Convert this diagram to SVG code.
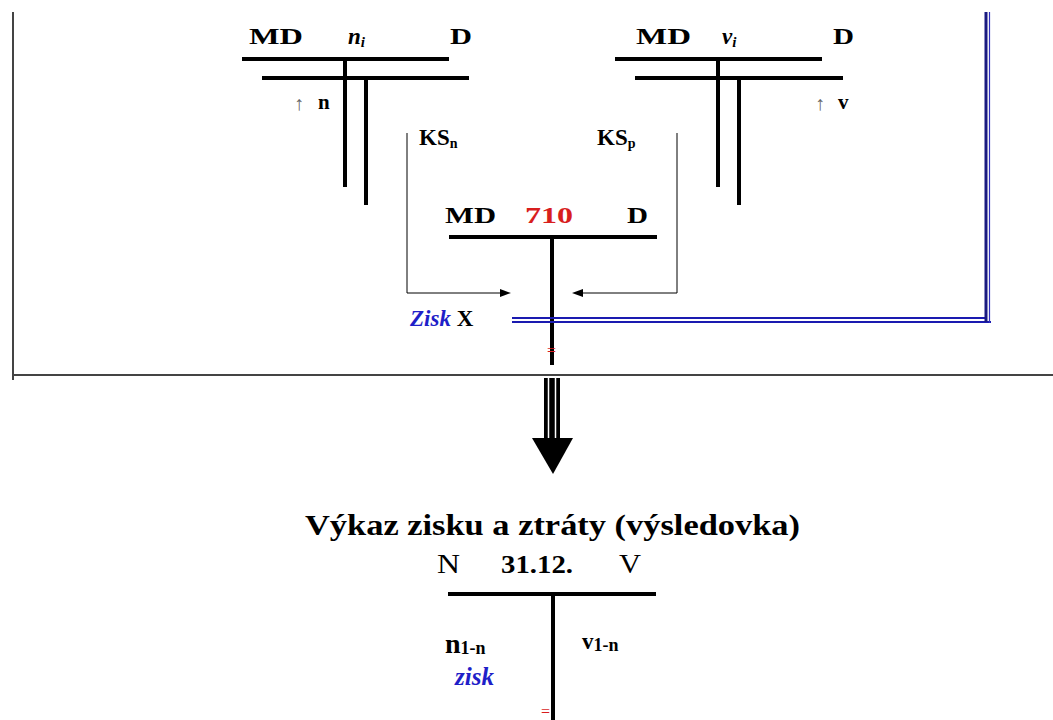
<svg xmlns="http://www.w3.org/2000/svg" width="1053" height="720" viewBox="0 0 1053 720">
<rect width="1053" height="720" fill="#fff"/>
<g id="frame" stroke="#444" stroke-width="2" fill="none">
<line x1="13" y1="12" x2="13" y2="380"/>
<line x1="13" y1="375" x2="1053" y2="375"/>
</g>
<g id="account-ni">
<g stroke="#000" stroke-width="4">
<line x1="242" y1="59" x2="449" y2="59"/>
<line x1="262" y1="78" x2="469" y2="78"/>
<line x1="345" y1="59" x2="345" y2="187"/>
<line x1="366" y1="78" x2="366" y2="205"/>
</g>
<text x="249" y="44" font-family="Liberation Serif" font-weight="bold" font-size="23" textLength="54" lengthAdjust="spacingAndGlyphs">MD</text>
<text x="348" y="44" font-family="Liberation Serif" font-weight="bold" font-size="23" font-style="italic">n<tspan font-size="15" dy="3">i</tspan></text>
<text x="450" y="44" font-family="Liberation Serif" font-weight="bold" font-size="23" textLength="22" lengthAdjust="spacingAndGlyphs">D</text>
<text x="294" y="110" font-family="Liberation Serif" font-size="20" fill="#666">↑</text>
<text x="318" y="109" font-family="Liberation Serif" font-weight="bold" font-size="21">n</text>
</g>
<g id="account-vi">
<g stroke="#000" stroke-width="4">
<line x1="615" y1="59" x2="822" y2="59"/>
<line x1="635" y1="78" x2="843" y2="78"/>
<line x1="718" y1="59" x2="718" y2="187"/>
<line x1="739" y1="78" x2="739" y2="205"/>
</g>
<text x="636" y="44" font-family="Liberation Serif" font-weight="bold" font-size="23" textLength="55" lengthAdjust="spacingAndGlyphs">MD</text>
<text x="722" y="44" font-family="Liberation Serif" font-weight="bold" font-size="23" font-style="italic">v<tspan font-size="15" dy="3">i</tspan></text>
<text x="833" y="44" font-family="Liberation Serif" font-weight="bold" font-size="23" textLength="21" lengthAdjust="spacingAndGlyphs">D</text>
<text x="815" y="110" font-family="Liberation Serif" font-size="20" fill="#666">↑</text>
<text x="838" y="109" font-family="Liberation Serif" font-weight="bold" font-size="21">v</text>
</g>
<g id="account-710">
<g stroke="#000" stroke-width="4">
<line x1="449" y1="237" x2="657" y2="237"/>
<line x1="552" y1="237" x2="552" y2="365"/>
</g>
<text x="445" y="223" font-family="Liberation Serif" font-weight="bold" font-size="23" textLength="51" lengthAdjust="spacingAndGlyphs">MD</text>
<text x="525" y="223" font-family="Liberation Serif" font-weight="bold" font-size="23" fill="#d81e1e" textLength="48" lengthAdjust="spacingAndGlyphs">710</text>
<text x="627" y="223" font-family="Liberation Serif" font-weight="bold" font-size="23" textLength="21" lengthAdjust="spacingAndGlyphs">D</text>
<text x="547" y="356" font-family="Liberation Serif" font-size="16" fill="#d81e1e">=</text>
</g>
<g id="labels">
<text x="419" y="145" font-family="Liberation Serif" font-weight="bold" font-size="23">KS<tspan font-size="14" dy="3">n</tspan></text>
<text x="597" y="145" font-family="Liberation Serif" font-weight="bold" font-size="23">KS<tspan font-size="14" dy="3">p</tspan></text>
<text x="410" y="326" font-family="Liberation Serif" font-weight="bold" font-size="23"><tspan fill="#1f1fc8" font-style="italic">Zisk</tspan> X</text>
</g>
<g id="connectors">
<g fill="none" stroke="#000" stroke-width="1">
<polyline points="407,133 407,293 502,293"/>
<polyline points="677,133 677,293 581,293"/>
</g>
<g fill="#000">
<polygon points="500,289 511,293 500,297"/>
<polygon points="583,289 572,293 583,297"/>
</g>
<g stroke="#1a1ab0" stroke-width="2">
<line x1="512" y1="318" x2="987" y2="318"/>
<line x1="512" y1="322" x2="991" y2="322"/>
</g>
<line x1="986" y1="12" x2="986" y2="322" stroke="#1a1a80" stroke-width="3"/>
<line x1="989.5" y1="12" x2="989.5" y2="323" stroke="#3030c0" stroke-width="1.2"/>
</g>
<g id="big-arrow">
<rect x="544" y="378" width="16" height="60" fill="#000"/>
<line x1="548.5" y1="378" x2="548.5" y2="438" stroke="#fff" stroke-width="1.5"/>
<line x1="555.5" y1="378" x2="555.5" y2="438" stroke="#fff" stroke-width="1.5"/>
<polygon points="532,438 573,438 553,474" fill="#000"/>
</g>
<g id="vykaz">
<text x="305" y="535" font-family="Liberation Serif" font-size="29" font-weight="bold" textLength="495" lengthAdjust="spacingAndGlyphs">Výkaz zisku a ztráty (výsledovka)</text>
<text x="437" y="573" font-family="Liberation Serif" font-size="27" textLength="23" lengthAdjust="spacingAndGlyphs">N</text>
<text x="501" y="573" font-family="Liberation Serif" font-size="26" font-weight="bold" textLength="72" lengthAdjust="spacingAndGlyphs">31.12.</text>
<text x="619" y="573" font-family="Liberation Serif" font-size="27" textLength="22" lengthAdjust="spacingAndGlyphs">V</text>
<g stroke="#000" stroke-width="4">
<line x1="448" y1="594" x2="656" y2="594"/>
<line x1="553" y1="594" x2="553" y2="720"/>
</g>
<text x="445" y="653" font-family="Liberation Serif" font-size="28" font-weight="bold">n<tspan font-size="18" dy="1">1-n</tspan></text>
<text x="582" y="649" font-family="Liberation Serif" font-size="23" font-weight="bold">v<tspan font-size="18" dy="2">1-n</tspan></text>
<text x="455" y="685" font-family="Liberation Serif" font-size="25" font-weight="bold" font-style="italic" fill="#1f1fc8">zisk</text>
<text x="541" y="717" font-family="Liberation Serif" font-size="16" fill="#d81e1e">=</text>
</g>
</svg>
